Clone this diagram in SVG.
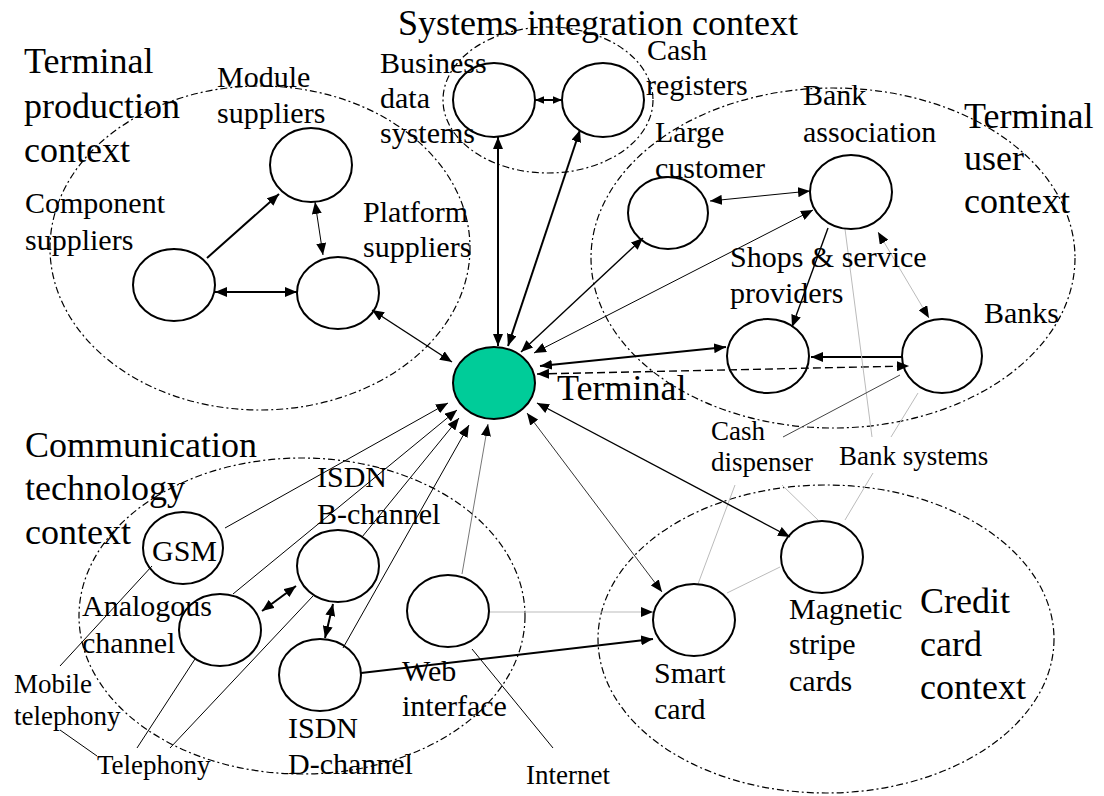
<svg xmlns="http://www.w3.org/2000/svg" width="1104" height="796" viewBox="0 0 1104 796">
<defs>
<marker id="ah" markerUnits="userSpaceOnUse" viewBox="0 0 12 10" markerWidth="12" markerHeight="10" refX="12" refY="5" orient="auto-start-reverse"><path d="M0,0 L12,5 L0,10 z" fill="#000"/></marker>
<marker id="ahs" markerUnits="userSpaceOnUse" viewBox="0 0 12 10" markerWidth="9" markerHeight="8" refX="12" refY="5" orient="auto-start-reverse"><path d="M0,0 L12,5 L0,10 z" fill="#000"/></marker>
</defs>
<style>
text{font-family:"Liberation Serif","Times New Roman",serif;fill:#000}
.xl{font-size:36px}
.l{font-size:30px}
.s{font-size:27px}
.ctx{fill:none;stroke:#000;stroke-width:1.2;stroke-dasharray:7 3 2 3}
.n{fill:none;stroke:#000;stroke-width:2}
.t{fill:#00CC99;stroke:#000;stroke-width:2}
.c{fill:none;stroke:#000;stroke-width:1}
.m{stroke-width:1.4}
.b{stroke-width:2}
.g{stroke:#bbb}
.d{stroke-dasharray:8 4}
.a2{marker-start:url(#ah);marker-end:url(#ah)}
.a1{marker-end:url(#ah)}
.as{marker-start:url(#ahs);marker-end:url(#ahs)}
</style>
<rect width="1104" height="796" fill="#fff"/>

<g id="contexts">
<g id="ctx-production"><ellipse class="ctx" cx="260" cy="248" rx="210" ry="162"/>
<text class="xl" x="24"><tspan x="24" y="73">Terminal</tspan><tspan x="24" y="118">production</tspan><tspan x="24" y="162">context</tspan></text></g>
<g id="ctx-integration"><ellipse class="ctx" cx="548" cy="100" rx="105" ry="73"/>
<text class="xl" x="398" y="35">Systems integration context</text></g>
<g id="ctx-user"><ellipse class="ctx" cx="833" cy="258" rx="242" ry="170"/>
<text class="xl"><tspan x="964" y="128">Terminal</tspan><tspan x="964" y="170">user</tspan><tspan x="964" y="213">context</tspan></text></g>
<g id="ctx-communication"><ellipse class="ctx" cx="302" cy="616" rx="223" ry="158"/>
<text class="xl"><tspan x="25" y="457">Communication</tspan><tspan x="25" y="500">technology</tspan><tspan x="25" y="544">context</tspan></text></g>
<g id="ctx-credit"><ellipse class="ctx" cx="826" cy="639" rx="228" ry="154"/>
<text class="xl"><tspan x="920" y="613">Credit</tspan><tspan x="920" y="656">card</tspan><tspan x="920" y="699">context</tspan></text></g>
</g>

<g id="connectors">
<line class="c b a1" x1="207" y1="258" x2="279" y2="194"/>
<line class="c a2" x1="315" y1="202" x2="323" y2="255"/>
<line class="c b a2" x1="215" y1="292" x2="297" y2="292"/>
<line class="c m a2" x1="372" y1="310" x2="452" y2="362"/>
<line class="c b a2" x1="498" y1="137" x2="498" y2="346"/>
<line class="c b a2" x1="580" y1="130" x2="508" y2="346"/>
<line class="c b as" x1="535" y1="100" x2="562" y2="100"/>
<line class="c m a2" x1="643" y1="238" x2="521" y2="352"/>
<line class="c a2" x1="813" y1="210" x2="534" y2="353"/>
<line class="c a2" x1="710" y1="201" x2="810" y2="191"/>
<line class="c b a2" x1="540" y1="366" x2="726" y2="347"/>
<line class="c b a1" x1="902" y1="357" x2="811" y2="357"/>
<line class="c m d a2" x1="537" y1="374" x2="909" y2="366"/>
<line class="c g a2" x1="878" y1="232" x2="929" y2="318"/>
<line class="c m a1" x1="828" y1="228" x2="792" y2="327"/>
<line class="c g" x1="845" y1="229" x2="872" y2="437"/>
<line class="c" style="stroke:#444" x1="900" y1="375" x2="783" y2="437"/>
<line class="c g" x1="918" y1="393" x2="891" y2="437"/>
<line class="c g" x1="873" y1="473" x2="845" y2="520"/>
<line class="c g" x1="782" y1="485" x2="818" y2="520"/>
<line class="c g" x1="735" y1="485" x2="698" y2="584"/>
<line class="c g" x1="727" y1="593" x2="780" y2="567"/>
<line class="c m a2" x1="537" y1="403" x2="790" y2="537"/>
<line class="c a2" style="stroke:#333" x1="527" y1="413" x2="662" y2="592"/>
<line class="c a1" style="stroke:#777" x1="462" y1="574" x2="488" y2="424"/>
<line class="c g a1" x1="490" y1="612" x2="653" y2="612"/>
<line class="c b a1" x1="361" y1="673" x2="653" y2="639"/>
<line class="c" x1="472" y1="649" x2="553" y2="748"/>
<line class="c a1" x1="225" y1="528" x2="448" y2="403"/>
<line class="c a1" x1="233" y1="594" x2="457" y2="410"/>
<line class="c a1" x1="362" y1="537" x2="459" y2="418"/>
<line class="c a1" x1="343" y1="648" x2="469" y2="425"/>
<line class="c b a2" x1="262" y1="611" x2="296" y2="586"/>
<line class="c b a2" x1="333" y1="604" x2="325" y2="638"/>
<line class="c" x1="60" y1="666" x2="152" y2="566"/>
<line class="c" x1="137" y1="748" x2="195" y2="659"/>
<line class="c" x1="170" y1="748" x2="313" y2="596"/>
<line class="c" x1="60" y1="730" x2="97" y2="756"/>
</g>

<g id="terminal"><ellipse class="t" cx="494" cy="383" rx="41" ry="36"/>
<text class="xl" x="557" y="400">Terminal</text></g>

<g id="module-suppliers"><ellipse class="n" cx="311" cy="165" rx="41" ry="37"/>
<text class="l"><tspan x="217" y="87">Module</tspan><tspan x="217" y="123">suppliers</tspan></text></g>
<g id="component-suppliers"><ellipse class="n" cx="174" cy="285" rx="41" ry="36"/>
<text class="l"><tspan x="25" y="213">Component</tspan><tspan x="25" y="250">suppliers</tspan></text></g>
<g id="platform-suppliers"><ellipse class="n" cx="338" cy="293" rx="41" ry="36"/>
<text class="l"><tspan x="363" y="222">Platform</tspan><tspan x="363" y="257">suppliers</tspan></text></g>

<g id="business-data-systems"><ellipse class="n" cx="494" cy="100" rx="41" ry="37"/>
<text class="l"><tspan x="380" y="73">Business</tspan><tspan x="380" y="108">data</tspan><tspan x="380" y="143">systems</tspan></text></g>
<g id="cash-registers"><ellipse class="n" cx="603" cy="100" rx="41" ry="37"/>
<text class="l"><tspan x="647" y="60">Cash</tspan><tspan x="646" y="95">registers</tspan></text></g>

<g id="large-customer"><ellipse class="n" cx="668" cy="213" rx="40" ry="36"/>
<text class="l"><tspan x="655" y="142">Large</tspan><tspan x="655" y="178">customer</tspan></text></g>
<g id="bank-association"><ellipse class="n" cx="851" cy="192" rx="41" ry="37"/>
<text class="l"><tspan x="803" y="105">Bank</tspan><tspan x="803" y="142">association</tspan></text></g>
<g id="shops"><ellipse class="n" cx="768" cy="356" rx="41" ry="37"/>
<text class="l"><tspan x="730" y="267">Shops &amp; service</tspan><tspan x="730" y="303">providers</tspan></text></g>
<g id="banks"><ellipse class="n" cx="942" cy="356" rx="40" ry="37"/>
<text class="l" x="984" y="323">Banks</text></g>

<g id="cash-dispenser"><text class="s"><tspan x="711" y="440">Cash</tspan><tspan x="711" y="471">dispenser</tspan></text></g>
<g id="bank-systems"><text class="s" x="839" y="465">Bank systems</text></g>

<g id="gsm"><ellipse class="n" cx="183" cy="548" rx="40" ry="36"/>
<text class="l" x="152" y="561">GSM</text></g>
<g id="isdn-b"><ellipse class="n" cx="338" cy="566" rx="41" ry="36"/>
<text class="l"><tspan x="317" y="487">ISDN</tspan><tspan x="317" y="524">B-channel</tspan></text></g>
<g id="analogous"><ellipse class="n" cx="220" cy="630" rx="41" ry="36"/>
<text class="l"><tspan x="82" y="616">Analogous</tspan><tspan x="82" y="653">channel</tspan></text></g>
<g id="isdn-d"><ellipse class="n" cx="320" cy="675" rx="41" ry="36"/>
<text class="l"><tspan x="288" y="738">ISDN</tspan><tspan x="288" y="774">D-channel</tspan></text></g>
<g id="web-interface"><ellipse class="n" cx="448" cy="611" rx="41" ry="36"/>
<text class="l"><tspan x="402" y="681">Web</tspan><tspan x="402" y="716">interface</tspan></text></g>
<g id="mobile-telephony"><text class="s"><tspan x="14" y="693">Mobile</tspan><tspan x="14" y="725">telephony</tspan></text></g>
<g id="telephony"><text class="s" x="97" y="774">Telephony</text></g>
<g id="internet"><text class="s" x="526" y="784">Internet</text></g>

<g id="smart-card"><ellipse class="n" cx="694" cy="620" rx="41" ry="36"/>
<text class="l"><tspan x="654" y="683">Smart</tspan><tspan x="654" y="719">card</tspan></text></g>
<g id="magnetic-stripe"><ellipse class="n" cx="822" cy="557" rx="41" ry="36"/>
<text class="l"><tspan x="789" y="619">Magnetic</tspan><tspan x="789" y="654">stripe</tspan><tspan x="789" y="691">cards</tspan></text></g>
</svg>
